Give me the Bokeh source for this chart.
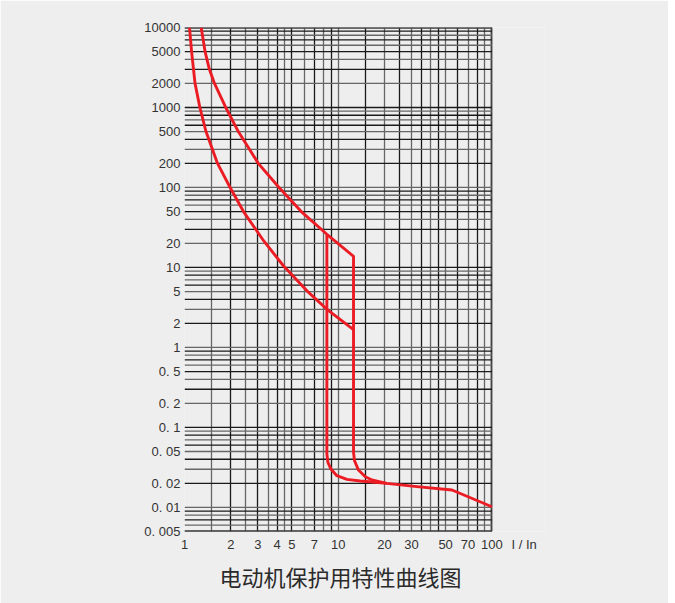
from bokeh.plotting import figure
from bokeh.models import Range1d, FixedTicker, Grid, Title
from bokeh.embed import file_html
from bokeh.resources import INLINE

# ---- data ----
title_text = "电动机保护用特性曲线图"
x_unit_label = "I / In"

x_ticks = [1, 2, 3, 4, 5, 7, 10, 20, 30, 50, 70, 100]
x_tick_labels = ["1", "2", "3", "4", "5", "7", "10", "20", "30", "50", "70", "100"]
y_ticks = [10000, 5000, 2000, 1000, 500, 200, 100, 50, 20, 10, 5, 2, 1,
           0.5, 0.2, 0.1, 0.05, 0.02, 0.01, 0.005]
y_tick_labels = ["10000", "5000", "2000", "1000", "500", "200", "100", "50", "20",
                 "10", "5", "2", "1", "0. 5", "0. 2", "0. 1", "0. 05", "0. 02",
                 "0. 01", "0. 005"]

x_grid = [1, 1.5, 2, 2.5, 3, 3.5, 4, 4.5, 5, 6, 7, 8, 9, 10,
          15, 20, 25, 30, 35, 40, 45, 50, 60, 70, 80, 90, 100]
y_grid = [0.005, 0.006, 0.007, 0.008, 0.009,
          0.01, 0.02, 0.03, 0.04, 0.05, 0.06, 0.07, 0.08, 0.09,
          0.1, 0.2, 0.3, 0.4, 0.5, 0.6, 0.7, 0.8, 0.9,
          1, 2, 3, 4, 5, 6, 7, 8, 9,
          10, 20, 30, 40, 50, 60, 70, 80, 90,
          100, 200, 300, 400, 500, 600, 700, 800, 900,
          1000, 2000, 3000, 4000, 5000, 6000, 7000, 8000, 9000, 10000]

# upper (slow) curve, then the slanted step, vertical drop and instantaneous tail
upper_x = [1.284, 1.361, 1.452, 1.567, 1.854, 2.239, 3.02, 4.12, 5.75, 8.44,
           12.58, 12.58, 12.77, 13.55, 15.0, 16.6, 18.8, 20.7, 32.5, 55, 100]
upper_y = [10000, 5000, 3000, 2000, 1000, 500, 200, 100, 50, 26,
           13.8, 0.0487, 0.0383, 0.0293, 0.0242, 0.022, 0.0208, 0.0200, 0.0182, 0.0165, 0.0102]

# lower (fast) curve
lower_x = [1.078, 1.112, 1.171, 1.259, 1.38, 1.64, 1.98, 2.42, 3.27, 4.4, 6.26, 8.65, 12.58]
lower_y = [10000, 5000, 2000, 1000, 500, 200, 100, 50, 21.6, 10.5, 5.1, 2.88, 1.67]

# inner vertical branch
inner_x = [8.44, 8.44, 8.57, 8.97, 9.8, 11.4, 13.9, 16.6, 20.7]
inner_y = [26, 0.0465, 0.0365, 0.0302, 0.0249, 0.0224, 0.0214, 0.0208, 0.0200]

BG = "#eeeeee"
RED = "#ec1c24"
TXT = "#333333"
X_MIN, X_MAX = 1, 100          # extent of the grid paper
UNIT_X = 162                   # where the "I / In" unit label sits on the axis row
DECADE_PX = 153.7

frame_w = 361
x_hi = 10 ** (frame_w / DECADE_PX)

p = figure(x_axis_type="log", y_axis_type="log",
           x_range=Range1d(1, x_hi), y_range=Range1d(0.005, 10000),
           output_backend="svg", toolbar_location=None,
           frame_width=frame_w, frame_height=504,
           min_border_left=184, min_border_right=123,
           min_border_top=27, min_border_bottom=72)
p.background_fill_color = BG
p.border_fill_color = BG
p.outline_line_color = None

p.xgrid.visible = False
p.ygrid.visible = False

dark, gray = "#1a1a1a", "#666666"
# vertical lines of the grid paper
for k, col in ((0, dark), (1, gray)):
    p.add_layout(Grid(dimension=0, ticker=FixedTicker(ticks=x_grid[k::2]),
                      grid_line_color=col, grid_line_width=1.3))
p.add_layout(Grid(dimension=0, ticker=FixedTicker(ticks=[X_MIN, X_MAX]),
                  grid_line_color="#444444", grid_line_width=1.6))
# horizontal lines, limited to the paper width
for k, col in ((0, dark), (1, gray)):
    ys = y_grid[k::2]
    p.segment(x0=[X_MIN] * len(ys), x1=[X_MAX] * len(ys), y0=ys, y1=ys,
              line_color=col, line_width=1.3)
p.segment(x0=[X_MIN, X_MIN], x1=[X_MAX, X_MAX], y0=[0.005, 10000], y1=[0.005, 10000],
          line_color="#444444", line_width=2.6)

for ax in (p.xaxis[0], p.yaxis[0]):
    ax.axis_line_color = None
    ax.major_tick_line_color = None
    ax.minor_tick_line_color = None
    ax.major_tick_out = 0
    ax.major_tick_in = 0
    ax.minor_tick_out = 0
    ax.minor_tick_in = 0
    ax.major_label_text_font = "Liberation Sans"
    ax.major_label_text_font_size = "13px"
    ax.major_label_text_color = TXT

p.xaxis.ticker = FixedTicker(ticks=x_ticks + [UNIT_X])
overrides = {t: s for t, s in zip(x_ticks, x_tick_labels)}
overrides[UNIT_X] = x_unit_label
p.xaxis.major_label_overrides = overrides
p.xaxis.major_label_standoff = 5
p.yaxis.ticker = FixedTicker(ticks=y_ticks)
p.yaxis.major_label_overrides = {t: s for t, s in zip(y_ticks, y_tick_labels)}
p.yaxis.major_label_standoff = 4

for xs, ys in ((upper_x, upper_y), (lower_x, lower_y), (inner_x, inner_y)):
    p.line(xs, ys, line_color=RED, line_width=2.9, line_join="round")

p.add_layout(Title(text=title_text, align="left", offset=340 - 184 - 121,
                   text_font="Noto Sans CJK SC",
                   text_font_size="22px", text_font_style="normal",
                   text_color="#2a2a2a", standoff=7), "below")

open("out.html", "w").write(file_html(p, INLINE))
